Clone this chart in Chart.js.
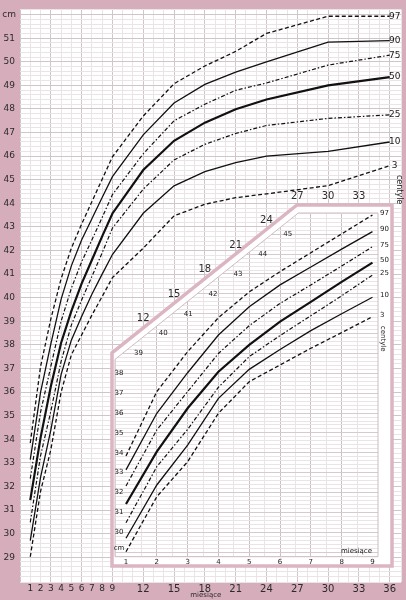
<!DOCTYPE html>
<html>
<head>
<meta charset="utf-8">
<script src="https://cdn.jsdelivr.net/npm/chart.js@4.4.1/dist/chart.umd.min.js"></script>
<style>
  html, body { margin: 0; padding: 0; background: #d5aab8; }
  #wrap { position: relative; width: 406px; height: 600px; }
  #mainChart { position: absolute; left: 0; top: 0; }
  #insetChart { position: absolute; left: 110px; top: 185px; }
</style>
</head>
<body>
<div id="wrap">
  <canvas id="mainChart" width="406" height="600"></canvas>
  <canvas id="insetChart" width="285" height="385"></canvas>
</div>
<script>
// Head circumference centiles (cm) by age in months
const months = [1, 2, 3, 4, 5, 6, 7, 8, 9, 12, 15, 18, 21, 24, 30, 36];
const p97 = [33.84, 37.08, 39.09, 40.8, 42.1, 43.12, 44.07, 45.02, 45.97, 47.7, 49.07, 49.82, 50.44, 51.2, 51.93, 51.93];
const p90 = [33.14, 35.99, 38.03, 39.93, 41.35, 42.45, 43.35, 44.25, 45.13, 46.9, 48.25, 49.04, 49.56, 50.0, 50.83, 50.9];
const p75 = [32.33, 35.15, 37.08, 39.0, 40.4, 41.52, 42.45, 43.4, 44.37, 46.1, 47.5, 48.2, 48.79, 49.1, 49.86, 50.28];
const p50 = [31.42, 34.06, 36.24, 38.08, 39.43, 40.6, 41.6, 42.6, 43.57, 45.41, 46.65, 47.42, 47.99, 48.4, 49.0, 49.35];
const p25 = [30.48, 33.3, 35.18, 37.3, 38.84, 39.9, 40.9, 41.9, 42.95, 44.6, 45.84, 46.5, 46.96, 47.3, 47.6, 47.75];
const p10 = [29.7, 32.38, 34.39, 36.74, 38.2, 39.2, 40.15, 41.0, 41.83, 43.58, 44.74, 45.34, 45.73, 46.0, 46.2, 46.6];
const p3 = [29.02, 31.79, 33.55, 35.99, 37.58, 38.42, 39.26, 40.05, 40.85, 42.1, 43.47, 43.96, 44.24, 44.4, 44.75, 45.6];

const centileNames = ["97", "90", "75", "50", "25", "10", "3"];
const centileValues = [p97, p90, p75, p50, p25, p10, p3];

// tick labels
const monthTicks = [1, 2, 3, 4, 5, 6, 7, 8, 9, 12, 15, 18, 21, 24, 27, 30, 33, 36];
const insetMonthTicks = [1, 2, 3, 4, 5, 6, 7, 8, 9];
const insetCmTicks = [30, 31, 32, 33, 34, 35, 36, 37, 38];
const diagCmTicks = [39, 40, 41, 42, 43, 44, 45];
const bandMonthTicks = [12, 15, 18, 21, 24, 27, 30, 33];

const PINK = "#d6adba";
const MINOR = "#ebe4e7";
const MAJOR = "#d0c5ca";
const INK = "#2b2b2b";

function isWhole(v) {
  return Math.abs(v - Math.round(v)) < 1e-6;
}

function lineStyle(name) {
  if (name === "97" || name === "3") return { w: 1.3, dash: [4, 2.5] };
  if (name === "75" || name === "25") return { w: 1.2, dash: [4, 2, 1.5, 2] };
  if (name === "50") return { w: 2.2, dash: [] };
  return { w: 1.3, dash: [] };
}

function makeDatasets(maxMonth) {
  return centileNames.map((name, i) => {
    const pts = [];
    months.forEach((m, j) => {
      if (m <= maxMonth) pts.push({ x: m, y: centileValues[i][j] });
    });
    const st = lineStyle(name);
    return {
      label: name,
      data: pts,
      borderColor: "#111",
      borderWidth: st.w,
      borderDash: st.dash,
      pointRadius: 0,
      tension: 0,
      fill: false,
    };
  });
}

// main chart: pink frame, labels at curve ends
const mainDeco = {
  id: "mainDeco",
  beforeDraw(chart) {
    const ctx = chart.ctx;
    const ca = chart.chartArea;
    ctx.save();
    ctx.fillStyle = PINK;
    ctx.fillRect(0, 0, chart.width, chart.height);
    ctx.fillStyle = "#fff";
    ctx.fillRect(ca.left, ca.top, ca.right - ca.left, ca.bottom - ca.top);
    ctx.restore();
  },
  afterDraw(chart) {
    const ctx = chart.ctx;
    const ca = chart.chartArea;
    const xs = chart.scales.x;
    const ys = chart.scales.y;
    const last = months.length - 1;
    ctx.save();
    ctx.fillStyle = "#1a1a1a";
    ctx.font = '9px "DejaVu Sans"';
    ctx.textAlign = "center";
    ctx.textBaseline = "middle";
    const xl = xs.getPixelForValue(36) + 5;
    centileNames.forEach((name, i) => {
      ctx.fillText(name, xl, ys.getPixelForValue(centileValues[i][last]));
    });
    ctx.save();
    ctx.translate(xl + 4, ys.getPixelForValue(p3[last]) + 24);
    ctx.rotate(Math.PI / 2);
    ctx.font = '8px "DejaVu Sans"';
    ctx.fillText("centyle", 0, 0);
    ctx.restore();
    ctx.font = '7px "DejaVu Sans"';
    ctx.fillStyle = INK;
    ctx.fillText("miesiące", xs.getPixelForValue(18) + 1, ca.bottom + 13);
    ctx.restore();
  },
};

const mainChart = new Chart(document.getElementById("mainChart"), {
  type: "line",
  data: { datasets: makeDatasets(36) },
  options: {
    animation: false,
    responsive: false,
    events: [],
    layout: { padding: { top: 7, right: 5, left: 0, bottom: 0 } },
    plugins: { legend: { display: false }, tooltip: { enabled: false } },
    scales: {
      x: {
        type: "linear",
        min: 0,
        max: 37.1,
        afterFit: (s) => { s.height = 18; },
        border: { display: false },
        grid: {
          drawTicks: false,
          color: (c) => (isWhole(c.tick.value) && Math.round(c.tick.value) % 3 === 0 ? MAJOR : MINOR),
        },
        ticks: {
          stepSize: 1,
          autoSkip: false,
          maxRotation: 0,
          minRotation: 0,
          padding: 1,
          color: INK,
          font: (c) => ({ family: "DejaVu Sans", size: c.tick && c.tick.value < 10 ? 9 : 10 }),
          callback: (v) => (monthTicks.includes(v) ? String(v) : ""),
        },
      },
      y: {
        type: "linear",
        min: 27.95,
        max: 52.22,
        afterFit: (s) => { s.width = 20; },
        border: { display: false },
        grid: {
          drawTicks: false,
          color: (c) => (isWhole(c.tick.value) ? MAJOR : MINOR),
        },
        ticks: {
          stepSize: 0.2,
          autoSkip: false,
          crossAlign: "center",
          padding: 4,
          color: INK,
          font: { family: "DejaVu Sans", size: 9 },
          callback: (v) => {
            if (!isWhole(v)) return "";
            const r = Math.round(v);
            if (r === 52) return "cm";
            return r >= 29 && r <= 51 ? String(r) : "";
          },
        },
      },
    },
  },
  plugins: [mainDeco],
});

// inset: first nine months magnified, in a frame with a cut corner
const INSET_LEFT = 110;
const DIAG = 0.7987;

function innerPoly(ca) {
  return [
    [ca.left, ca.bottom],
    [ca.left, ca.top + 146.4],
    [ca.left + 183.3, ca.top],
    [ca.right, ca.top],
    [ca.right, ca.bottom],
  ];
}

function outerPoly(ca) {
  return [
    [ca.left - 3, ca.bottom + 9.3],
    [ca.left - 3, ca.top + 139.8],
    [ca.left + 182, ca.top - 8],
    [ca.right + 14, ca.top - 8],
    [ca.right + 14, ca.bottom + 9.3],
  ];
}

function tracePoly(ctx, pts) {
  ctx.beginPath();
  pts.forEach((p, i) => (i ? ctx.lineTo(p[0], p[1]) : ctx.moveTo(p[0], p[1])));
  ctx.closePath();
}

const insetDeco = {
  id: "insetDeco",
  beforeDraw(chart) {
    const ctx = chart.ctx;
    const ca = chart.chartArea;
    ctx.save();
    tracePoly(ctx, outerPoly(ca));
    ctx.fillStyle = "#fff";
    ctx.fill();
    ctx.lineWidth = 3.5;
    ctx.strokeStyle = "#dbb5c1";
    ctx.stroke();
    ctx.restore();
    ctx.save();
    tracePoly(ctx, innerPoly(ca));
    ctx.clip();
  },
  afterDraw(chart) {
    const ctx = chart.ctx;
    const ca = chart.chartArea;
    const xs = chart.scales.x;
    const ys = chart.scales.y;
    const mx = mainChart.scales.x;
    const last = months.indexOf(9);
    ctx.restore();
    ctx.save();
    tracePoly(ctx, innerPoly(ca));
    ctx.lineWidth = 1;
    ctx.strokeStyle = "#cdbcc3";
    ctx.stroke();

    ctx.fillStyle = "#1a1a1a";
    ctx.textAlign = "center";
    ctx.textBaseline = "middle";
    ctx.font = '7px "DejaVu Sans"';
    insetCmTicks.forEach((v) => ctx.fillText(String(v), ca.left + 4, ys.getPixelForValue(v)));
    ctx.fillText("cm", ca.left + 4, ca.bottom - 8.5);
    insetMonthTicks.forEach((m) => ctx.fillText(String(m), xs.getPixelForValue(m), ca.bottom + 5));
    const diagTopY = ca.top + 146.4;
    diagCmTicks.forEach((v) => {
      const y = ys.getPixelForValue(v);
      const x = ca.left + (diagTopY - y) / DIAG + 16;
      ctx.fillText(String(v), x, y);
    });
    ctx.textAlign = "left";
    centileNames.forEach((name, i) => {
      ctx.fillText(name, ca.right + 2, ys.getPixelForValue(centileValues[i][last]) - 2);
    });
    ctx.textAlign = "right";
    ctx.fillText("miesiące", ca.right - 6, ca.bottom - 6);
    ctx.textAlign = "center";
    ctx.save();
    ctx.translate(ca.right + 5, ys.getPixelForValue(p3[last]) + 22);
    ctx.rotate(Math.PI / 2);
    ctx.fillText("centyle", 0, 0);
    ctx.restore();

    // month labels of the main axis folded along the frame
    ctx.font = '10px "DejaVu Sans"';
    ctx.fillStyle = INK;
    const corner = outerPoly(ca)[2];
    const start = outerPoly(ca)[1];
    bandMonthTicks.forEach((m) => {
      const x = mx.getPixelForValue(m) - INSET_LEFT;
      const yEdge = x <= corner[0] ? start[1] - DIAG * (x - start[0]) : corner[1];
      ctx.fillText(String(m), x, yEdge - 9);
    });
    ctx.restore();
  },
};

new Chart(document.getElementById("insetChart"), {
  type: "line",
  data: { datasets: makeDatasets(9) },
  options: {
    animation: false,
    responsive: false,
    events: [],
    layout: { padding: { top: 28, right: 17, left: 5, bottom: 13.3 } },
    plugins: { legend: { display: false }, tooltip: { enabled: false } },
    scales: {
      x: {
        type: "linear",
        min: 0.643,
        max: 9.18,
        afterFit: (s) => { s.height = 0; },
        border: { display: false },
        grid: {
          drawTicks: false,
          color: (c) => (isWhole(c.tick.value) ? "#cbbfc5" : MINOR),
        },
        ticks: { display: false, stepSize: 0.5, autoSkip: false },
      },
      y: {
        type: "linear",
        min: 28.77,
        max: 46.07,
        afterFit: (s) => { s.width = 0; },
        border: { display: false },
        grid: {
          drawTicks: false,
          color: (c) => (isWhole(c.tick.value) ? "#d6cacf" : MINOR),
        },
        ticks: { display: false, stepSize: 0.2, autoSkip: false },
      },
    },
  },
  plugins: [insetDeco],
});
</script>
</body>
</html>
